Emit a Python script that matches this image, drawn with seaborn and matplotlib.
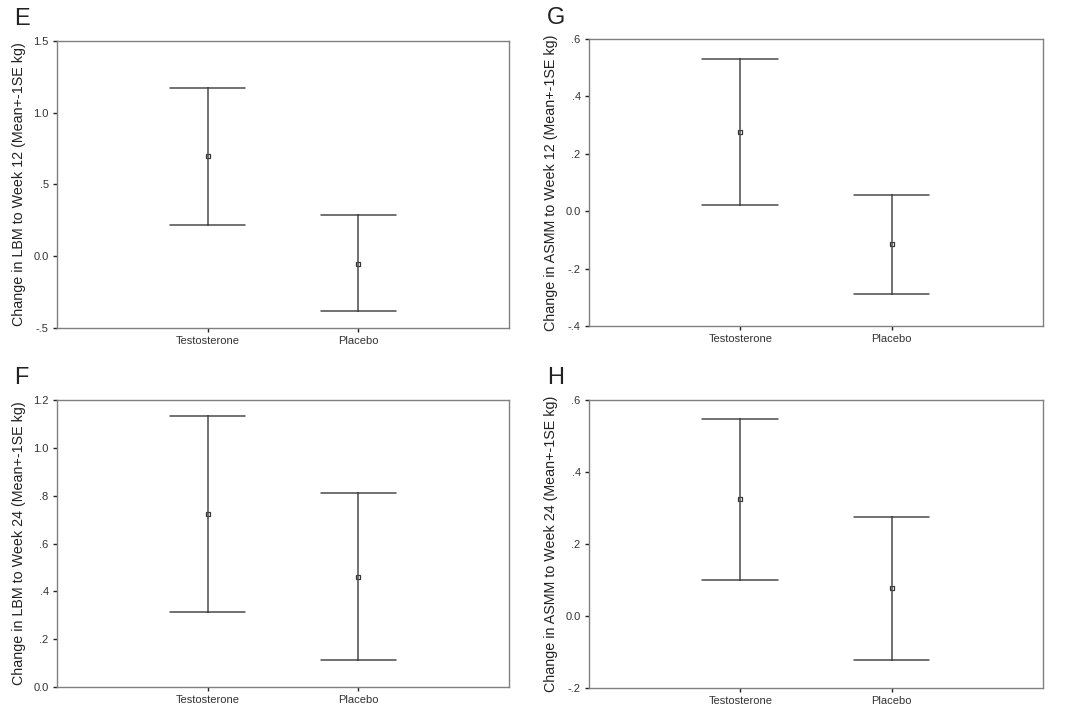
import numpy as np
import pandas as pd
import seaborn as sns
import matplotlib.pyplot as plt

groups = ['Testosterone', 'Placebo']

# mean, lower (mean - 1SE), upper (mean + 1SE) per panel
e_mean = [0.698, -0.053]
e_low = [0.216, -0.381]
e_high = [1.174, 0.284]

g_mean = [0.276, -0.115]
g_low = [0.023, -0.287]
g_high = [0.531, 0.056]

f_mean = [0.723, 0.462]
f_low = [0.314, 0.112]
f_high = [1.134, 0.811]

h_mean = [0.324, 0.079]
h_low = [0.099, -0.121]
h_high = [0.548, 0.276]

e_ticks = [-0.5, 0.0, 0.5, 1.0, 1.5]
e_ticklabels = ['-.5', '0.0', '.5', '1.0', '1.5']
g_ticks = [-0.4, -0.2, 0.0, 0.2, 0.4, 0.6]
g_ticklabels = ['-.4', '-.2', '0.0', '.2', '.4', '.6']
f_ticks = [0.0, 0.2, 0.4, 0.6, 0.8, 1.0, 1.2]
f_ticklabels = ['0.0', '.2', '.4', '.6', '.8', '1.0', '1.2']
h_ticks = [-0.2, 0.0, 0.2, 0.4, 0.6]
h_ticklabels = ['-.2', '0.0', '.2', '.4', '.6']

sns.set_style('white')
plt.rcParams['font.family'] = ['Liberation Sans', 'DejaVu Sans']

fig = plt.figure(figsize=(10.7, 7.14), dpi=100)
W, H = 1070, 714

def make_ax(left, top, right, bottom):
    return fig.add_axes([left / W, 1 - bottom / H, (right - left) / W, (bottom - top) / H])

panels = [
    ('E', make_ax(57, 41, 509, 328), e_mean, e_low, e_high, e_ticks, e_ticklabels,
     'Change in LBM to Week 12 (Mean+-1SE kg)', (14, 8)),
    ('G', make_ax(589, 39, 1043, 326), g_mean, g_low, g_high, g_ticks, g_ticklabels,
     'Change in ASMM to Week 12 (Mean+-1SE kg)', (547, 7)),
    ('F', make_ax(57, 400, 509, 687), f_mean, f_low, f_high, f_ticks, f_ticklabels,
     'Change in LBM to Week 24 (Mean+-1SE kg)', (14, 367)),
    ('H', make_ax(589, 400, 1043, 688), h_mean, h_low, h_high, h_ticks, h_ticklabels,
     'Change in ASMM to Week 24 (Mean+-1SE kg)', (547, 367)),
]

for letter, ax, means, lows, highs, ticks, ticklabels, ylabel, lpos in panels:
    rows = []
    for grp, m, lo, hi in zip(groups, means, lows, highs):
        for v in (lo, m, hi):
            rows.append({'group': grp, 'value': v})
    df = pd.DataFrame(rows)
    sns.pointplot(data=df, x='group', y='value', order=groups, ax=ax,
                  estimator=np.median, errorbar=lambda x: (x.min(), x.max()),
                  capsize=0.5, color='#4a4a4a', linestyle='none',
                  marker='s', markersize=2.5, markerfacecolor='white',
                  markeredgecolor='#333333', markeredgewidth=0.9,
                  err_kws={'linewidth': 1.1})
    ax.set_xlim(-1, 2)
    ax.set_ylim(ticks[0], ticks[-1])
    ax.set_yticks(ticks)
    ax.set_yticklabels(ticklabels)
    ax.set_xlabel('')
    ax.set_ylabel(ylabel, fontsize=10.3, labelpad=5, color='#222222')
    ax.tick_params(axis='both', which='both', direction='out', length=3, width=1,
                   color='#222222', labelsize=8, labelcolor='#333333', pad=3,
                   left=True, bottom=True)
    for s in ax.spines.values():
        s.set_color('#808080')
        s.set_linewidth(1.0)
    fig.text(lpos[0] / W, 1 - lpos[1] / H, letter, fontsize=17, va='top', ha='left',
             color='#222222')

fig.savefig('out.png', dpi=100)
